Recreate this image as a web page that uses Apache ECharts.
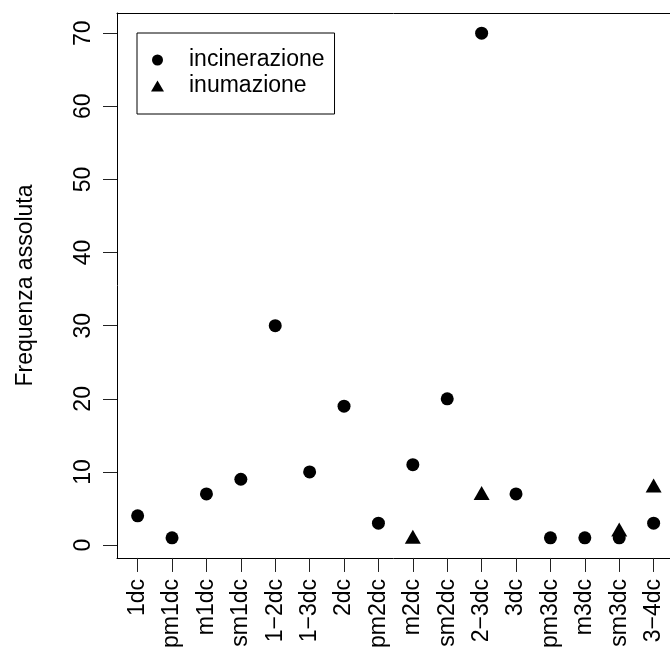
<!DOCTYPE html>
<html>
<head>
<meta charset="utf-8">
<script src="https://cdn.jsdelivr.net/npm/echarts@6/dist/echarts.min.js"></script>
<style>
  html, body { margin: 0; padding: 0; background: #fff; }
  #chart { width: 670px; height: 651px; }
</style>
</head>
<body>
<div id="chart"></div>
<script>
// Tooth-development classes along the x axis
const categories = ['1dc', 'pm1dc', 'm1dc', 'sm1dc', '1\u22122dc', '1\u22123dc', '2dc', 'pm2dc',
                    'm2dc', 'sm2dc', '2\u22123dc', '3dc', 'pm3dc', 'm3dc', 'sm3dc', '3\u22124dc'];
// Absolute frequencies per burial rite (null = no observation)
const incinerazione = [4, 1, 7, 9, 30, 10, 19, 3, 11, 20, 70, 7, 1, 1, 1, 3];
const inumazione = [null, null, null, null, null, null, null, null, 1, null, 7, null, null, null, 2, 8];
const yTicks = [0, 10, 20, 30, 40, 50, 60, 70];

const FONT = '"Liberation Sans", Arial, Helvetica, sans-serif';
const FS = 23;

function toPoints(values) {
  const pts = [];
  values.forEach((v, i) => { if (v !== null) pts.push([i + 1, v]); });
  return pts;
}

const xTickValues = categories.map((_, i) => i + 1);

// The plotting region runs past the right edge of the canvas, so the
// x range is cut at the canvas edge and the box is drawn from axis lines.
const chart = echarts.init(document.getElementById('chart'), null, { renderer: 'canvas' });
chart.setOption({
  animation: false,
  backgroundColor: '#fff',
  textStyle: { fontFamily: FONT, color: '#000' },
  grid: {
    left: 117, top: 13, bottom: 89, right: 0,
    show: false
  },
  legend: {
    orient: 'vertical',
    left: 137, top: 33,
    padding: [14, 10, 15, 14],
    itemGap: 0,
    itemWidth: 13, itemHeight: 11,
    borderColor: '#000', borderWidth: 1,
    textStyle: { fontFamily: FONT, fontSize: FS, color: '#000', lineHeight: 26, padding: [0, 0, 0, 20] },
    data: ['incinerazione', 'inumazione']
  },
  xAxis: [
    {
      type: 'value',
      min: 0.4, max: 16.476,
      splitLine: { show: false },
      axisLine: { show: true, onZero: false, lineStyle: { color: '#000', width: 1 } },
      axisTick: { show: true, inside: false, length: 14, customValues: xTickValues,
                  lineStyle: { color: '#222', width: 1 } },
      axisLabel: {
        customValues: xTickValues,
        rotate: 90, margin: 21,
        fontFamily: FONT, fontSize: FS, color: '#000',
        formatter: v => categories[Math.round(v) - 1] || ''
      }
    },
    {
      // top edge of the plot box
      type: 'value',
      position: 'top',
      min: 0.4, max: 16.476,
      splitLine: { show: false },
      axisLine: { show: true, onZero: false, lineStyle: { color: '#000', width: 1 } },
      axisTick: { show: false },
      axisLabel: { show: false }
    }
  ],
  yAxis: {
    type: 'value',
    min: -1.76, max: 72.76,
    name: 'Frequenza assoluta',
    nameLocation: 'middle',
    nameRotate: 90,
    nameGap: 80,
    nameTextStyle: { fontFamily: FONT, fontSize: FS, color: '#000' },
    splitLine: { show: false },
    axisLine: { show: true, onZero: false, lineStyle: { color: '#000', width: 1 } },
    axisTick: { show: true, inside: false, length: 14, customValues: yTicks,
                lineStyle: { color: '#222', width: 1 } },
    axisLabel: {
      customValues: yTicks,
      rotate: 90, margin: 22,
      fontFamily: FONT, fontSize: FS, color: '#000'
    }
  },
  series: [
    {
      name: 'incinerazione',
      type: 'scatter',
      symbol: 'circle',
      symbolSize: 13,
      itemStyle: { color: '#000', opacity: 1 },
      data: toPoints(incinerazione)
    },
    {
      name: 'inumazione',
      type: 'scatter',
      symbol: 'triangle',
      symbolSize: [16, 14],
      symbolOffset: [0, -1],
      itemStyle: { color: '#000', opacity: 1 },
      data: toPoints(inumazione)
    }
  ]
});
</script>
</body>
</html>
